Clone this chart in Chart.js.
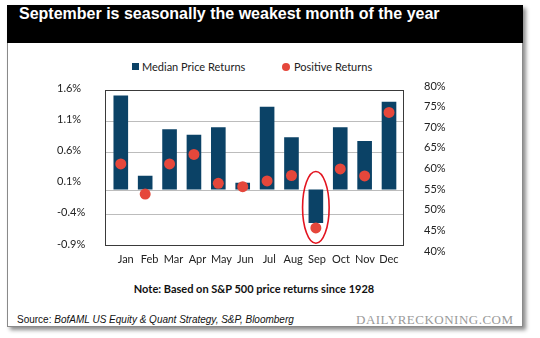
<!DOCTYPE html>
<html><head><meta charset="utf-8">
<script src="https://cdn.jsdelivr.net/npm/chart.js@4"></script>
<style>
html,body{margin:0;padding:0;width:540px;height:338px;overflow:hidden;background:#fff;}
.abs{position:absolute;white-space:nowrap;}
#panel{left:7px;top:5px;width:514px;height:320px;border:1px solid #8a8a8a;box-shadow:3px 3px 4px rgba(0,0,0,0.45);background:#fff;}
#band{left:7px;top:5px;width:516px;height:38px;background:#000;}
#title{left:19px;top:5px;height:38px;line-height:38px;color:#fff;font:bold 16px "Liberation Sans",Arial,sans-serif;}
.leg{font:11px Lato,sans-serif;color:#222;line-height:14px;top:60px;}
#note{left:0;width:508px;text-align:center;top:282px;font:bold 11px Lato,sans-serif;color:#111;}
#source{left:17px;top:314px;font:10px "Liberation Sans",Arial,sans-serif;color:#111;}
#brand{left:356px;top:312px;font:13px "Liberation Serif",serif;color:#9a9a9a;letter-spacing:0.5px;}
canvas{position:absolute;left:0;top:0;}
</style></head>
<body>
<div id="panel" class="abs"></div>
<div id="band" class="abs"></div>
<div id="title" class="abs">September is seasonally the weakest month of the year</div>
<div class="abs" style="left:132px;top:63px;width:7px;height:7px;background:#0b4266;"></div>
<div class="abs leg" style="left:142px;">Median Price Returns</div>
<div class="abs" style="left:282px;top:63px;width:8px;height:8px;border-radius:50%;background:#e5473b;"></div>
<div class="abs leg" style="left:294px;">Positive Returns</div>
<div id="note" class="abs">Note: Based on S&amp;P 500 price returns since 1928</div>
<div id="source" class="abs">Source: <i>BofAML US Equity &amp; Quant Strategy, S&amp;P, Bloomberg</i></div>
<div id="brand" class="abs">DAILYRECKONING.COM</div>
<canvas id="c" width="540" height="338"></canvas>
<script>
const months = ['Jan','Feb','Mar','Apr','May','Jun','Jul','Aug','Sep','Oct','Nov','Dec'];
const medianReturns = [1.51,0.22,0.97,0.88,1.00,0.11,1.33,0.84,-0.54,1.00,0.78,1.41];
const positiveReturns = [61.1,53.8,61.1,63.4,56.4,55.6,57.0,58.3,45.6,59.9,58.2,73.6];
const leftTicks = [1.6,1.1,0.6,0.1,-0.4,-0.9];
const rightTicks = [80,75,70,65,60,55,50,45,40];
const gridValues = [1.1,0.6,0,-0.4];
const highlight = {index: 8, top: 0.29, bottom: -0.865};

const tickFont = {family:'Lato', size:11};
const tickColor = '#222';

const framePlugin = {
  id:'frame',
  beforeDatasetsDraw(chart){
    const ctx = chart.ctx, yL = chart.scales.yL, ca = chart.chartArea;
    const left = Math.round(ca.left - 3.5) + 0.5, right = Math.round(ca.right + 2) + 0.5;
    const top = Math.round(yL.getPixelForValue(leftTicks[0])) + 0.5;
    const bottom = Math.round(yL.getPixelForValue(leftTicks[leftTicks.length-1])) + 0.5;
    ctx.save();
    ctx.lineWidth = 1;
    ctx.strokeStyle = '#bcbcbc';
    gridValues.forEach(v => {
      const y = Math.round(yL.getPixelForValue(v)) + 0.5;
      ctx.beginPath(); ctx.moveTo(left, y); ctx.lineTo(right, y); ctx.stroke();
    });
    ctx.strokeStyle = '#3a3a3a';
    ctx.strokeRect(left, top, right - left, bottom - top);
    ctx.restore();
  },
  afterDatasetsDraw(chart){
    const ctx = chart.ctx, yL = chart.scales.yL, x = chart.scales.x;
    const cx = x.getPixelForValue(highlight.index);
    const w = x.getPixelForValue(1) - x.getPixelForValue(0);
    const y1 = yL.getPixelForValue(highlight.top), y2 = yL.getPixelForValue(highlight.bottom);
    ctx.save();
    ctx.strokeStyle = '#e3141f';
    ctx.lineWidth = 1.6;
    ctx.beginPath();
    ctx.ellipse(cx, (y1 + y2) / 2, w * 0.545, (y2 - y1) / 2, 0, 0, Math.PI * 2);
    ctx.stroke();
    ctx.restore();
  }
};

new Chart(document.getElementById('c'), {
  type: 'bar',
  data: {
    labels: months,
    datasets: [
      {type:'bar', label:'Median Price Returns', data: medianReturns, backgroundColor:'#0b4266',
       xAxisID:'x', yAxisID:'yL', barPercentage:0.6, categoryPercentage:1, order:1},
      {type:'line', label:'Positive Returns', data: positiveReturns, showLine:false,
       pointRadius:5.5, pointHoverRadius:5.5, pointBackgroundColor:'#e5473b', pointBorderWidth:0,
       xAxisID:'x', yAxisID:'yR', order:0}
    ]
  },
  options: {
    responsive:false, animation:false, devicePixelRatio:1,
    layout:{padding:{left:57, top:86, right:0, bottom:0}},
    plugins:{legend:{display:false}, tooltip:{enabled:false}},
    scales:{
      x:{type:'category', offset:true, display:false},
      xm:{type:'linear', position:'bottom', min:-0.207, max:11.008,
        afterBuildTicks: s => { s.ticks = months.map((m, i) => ({value:i})); },
        afterFit: s => { s.height = 87; },
        ticks:{callback: v => months[Math.round(v)], autoSkip:false, maxRotation:0, padding:2, font:tickFont, color:tickColor},
        grid:{display:false, drawTicks:false}, border:{display:false}},
      yL:{type:'linear', position:'left', min:-0.9889, max:1.6643,
        afterBuildTicks: s => { s.ticks = leftTicks.map(v => ({value:v})); },
        afterFit: s => { s.width = 51.6; },
        ticks:{callback: v => v.toFixed(1) + '%', crossAlign:'far', labelOffset:-1.5, font:tickFont, color:tickColor},
        grid:{display:false, drawTicks:false}, border:{display:false}},
      yR:{type:'linear', position:'right', min:40, max:80,
        afterBuildTicks: s => { s.ticks = rightTicks.map(v => ({value:v})); },
        afterFit: s => { s.width = 138.8; },
        ticks:{callback: v => v + '%', padding:22.8, font:tickFont, color:tickColor},
        grid:{display:false, drawTicks:false}, border:{display:false}}
    }
  },
  plugins:[framePlugin]
});
</script>
</body></html>
